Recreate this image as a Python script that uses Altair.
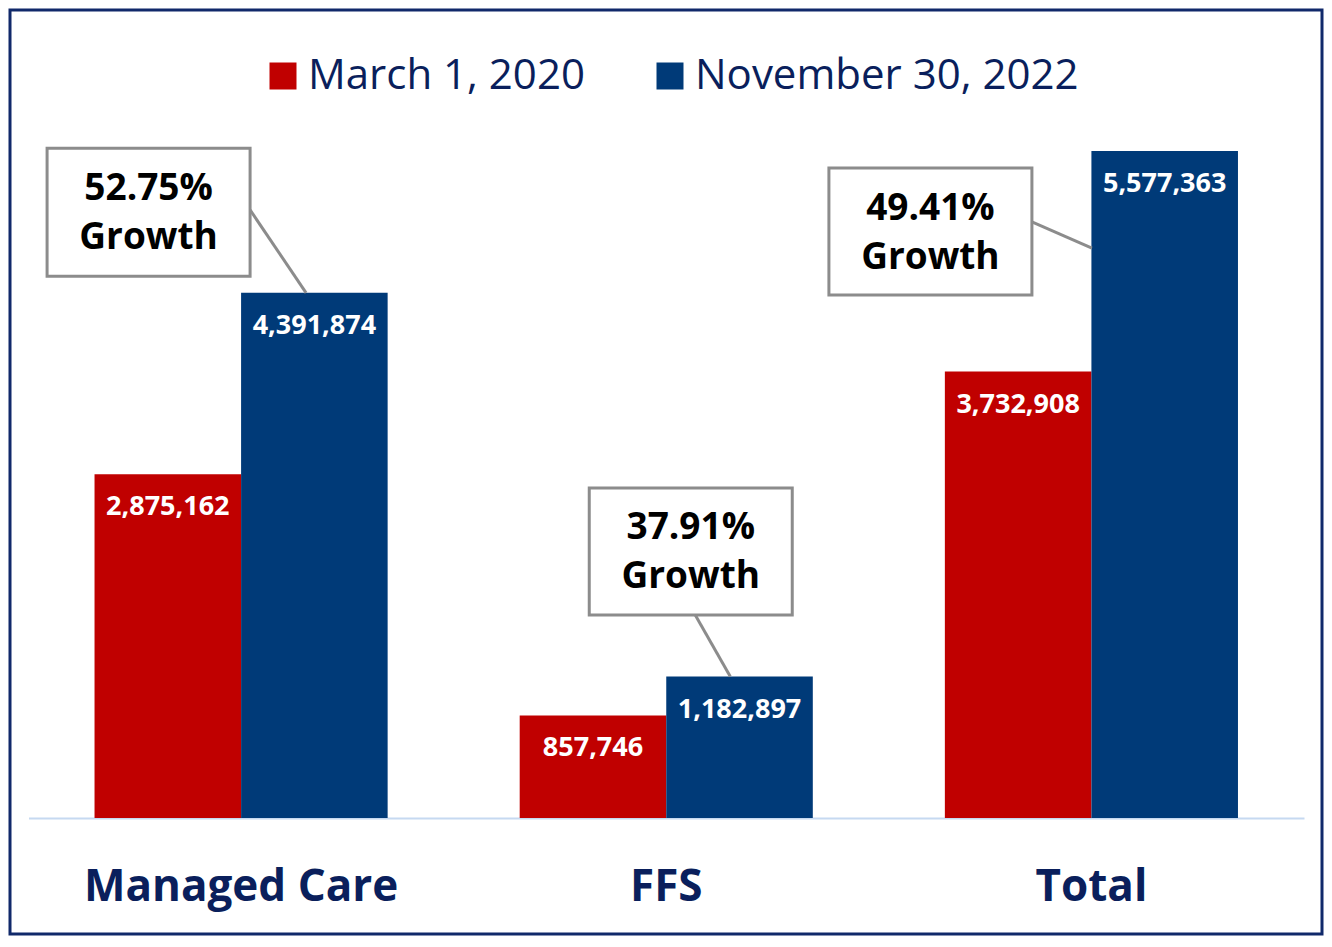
import altair as alt
import pandas as pd

# ---------------- data ----------------
categories = ["Managed Care", "FFS", "Total"]
series = ["March 1, 2020", "November 30, 2022"]
march_2020 = [2875162, 857746, 3732908]
nov_2022 = [4391874, 1182897, 5577363]

rows = []
for c, a, b in zip(categories, march_2020, nov_2022):
    rows.append({"cat": c, "series": series[0], "value": a})
    rows.append({"cat": c, "series": series[1], "value": b})
df = pd.DataFrame(rows)

growth = [f"{(b / a - 1) * 100:.2f}%" for a, b in zip(march_2020, nov_2022)]

# ---------------- style ----------------
RED = "#C00000"
BLUE = "#003A78"
NAVY = "#0A1F5C"
FRAME = "#10296A"
BASE = "#C6D9F1"
GRAY = "#8C8C8C"
FONT = "Open Sans"

xscale = alt.Scale(domain=categories, range=[18.5, 1294], paddingInner=0.3106, paddingOuter=0.1553)
yscale = alt.Scale(domain=[0, 6000000], range=[808, 90.5], nice=False, zero=True)

X = alt.X("cat:N", scale=xscale, title=None,
          axis=alt.Axis(orient="bottom", offset=-116, ticks=False, labelAngle=0,
                        labelFontSize=44, labelFont=FONT, labelFontWeight="bold",
                        labelColor=NAVY, labelPadding=69, labelBaseline="middle",
                        domainColor=BASE, domainWidth=2, grid=False, labelLimit=0))

bars = alt.Chart(df).mark_bar().encode(
    x=X,
    xOffset=alt.XOffset("series:N", sort=series, scale=alt.Scale(paddingInner=0, paddingOuter=0)),
    y=alt.Y("value:Q", scale=yscale, axis=None),
    color=alt.Color("series:N", sort=series,
                    scale=alt.Scale(domain=series, range=[RED, BLUE]),
                    legend=alt.Legend(title=None, orient="none", legendX=252, legendY=45,
                                      direction="horizontal", symbolType="square",
                                      symbolSize=729, symbolStrokeWidth=0,
                                      labelFontSize=42, labelFont=FONT, labelColor=NAVY,
                                      labelOffset=4, columnPadding=64, padding=0,
                                      labelLimit=0)),
)

labels = alt.Chart(df).mark_text(
    dy=33, baseline="middle", align="center", font=FONT, fontSize=27,
    fontWeight="bold", color="white"
).encode(
    x=alt.X("cat:N", scale=xscale),
    xOffset=alt.XOffset("series:N", sort=series),
    y=alt.Y("value:Q", scale=yscale, axis=None),
    text=alt.Text("value:Q", format=","),
)

# ---------------- annotation callouts (placement in value units + pixel offsets) ----------------
callout_layout = {
    "Managed Care": dict(box_top=5600000, box_bot=4530000, box_dx=-92.5, text_y=5080000,
                         line_y1=5085000, line_dx1=9, line_dx2=65),
    "FFS": dict(box_top=2760000, box_bot=1697000, box_dx=24.5, text_y=2245000,
                line_y1=1697000, line_dx1=29, line_dx2=64),
    "Total": dict(box_top=5435000, box_bot=4373000, box_dx=-161, text_y=4912000,
                  line_y1=4984000, line_dx1=-59.5, line_dx2=0.5),
}
line_end = {"Managed Care": 4391874, "FFS": 1182897, "Total": 4766000}

layers = [bars, labels]
for c, g in zip(categories, growth):
    L = callout_layout[c]
    d = pd.DataFrame([{"cat": c, "top": L["box_top"], "bot": L["box_bot"],
                       "ty": L["text_y"], "txt": f"{g}\nGrowth",
                       "ly1": L["line_y1"], "ly2": line_end[c]}])
    rule = alt.Chart(d).mark_rule(color=GRAY, strokeWidth=3,
                                  xOffset=L["line_dx1"], x2Offset=L["line_dx2"]).encode(
        x=alt.X("cat:N", scale=xscale, bandPosition=0.5),
        x2=alt.X2("cat"),
        y=alt.Y("ly1:Q", scale=yscale, axis=None),
        y2=alt.Y2("ly2"),
    )
    box = alt.Chart(d).mark_rect(width=203, xOffset=L["box_dx"], fill="white",
                                 stroke=GRAY, strokeWidth=3).encode(
        x=alt.X("cat:N", scale=xscale),
        y=alt.Y("top:Q", scale=yscale, axis=None),
        y2=alt.Y2("bot"),
    )
    txt = alt.Chart(d).mark_text(xOffset=L["box_dx"], dy=-22, baseline="middle",
                                 align="center", font=FONT, fontSize=37, fontWeight="bold",
                                 color="black", lineBreak="\n", lineHeight=49).encode(
        x=alt.X("cat:N", scale=xscale),
        y=alt.Y("ty:Q", scale=yscale, axis=None),
        text="txt:N",
    )
    layers += [rule, box, txt]

chart = alt.layer(*layers).properties(
    width=1312, height=924,
    autosize=alt.AutoSizeParams(type="none"),
    padding=2,
    background="white",
).configure_view(stroke=FRAME, strokeWidth=3)

chart.save("out.html", embed_options={"renderer": "svg", "actions": False})
